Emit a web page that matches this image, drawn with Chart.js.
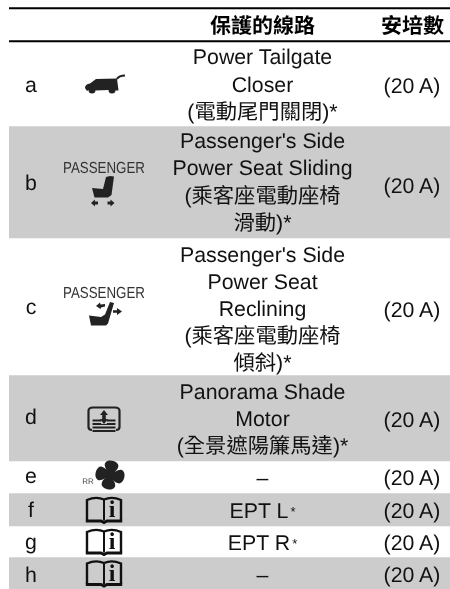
<!DOCTYPE html>
<html><head><meta charset="utf-8">
<style>html,body{margin:0;padding:0;background:#fff}canvas{display:block}</style>
<script src="https://cdn.jsdelivr.net/npm/chart.js@4"></script>
</head><body>
<canvas id="c" width="450" height="589"></canvas>
<script>
const headerLabels = ['保護的線路', '安培數'];
const rowLetters = ['a','b','c','d','e','f','g','h'];
const rowIcons = ['car','seatSlide','seatRecline','shade','fan','book','book','book'];
const rowCircuits = [
  ['Power Tailgate','Closer','(電動尾門關閉)*'],
  ["Passenger's Side",'Power Seat Sliding','(乘客座電動座椅','滑動)*'],
  ["Passenger's Side",'Power Seat','Reclining','(乘客座電動座椅','傾斜)*'],
  ['Panorama Shade','Motor','(全景遮陽簾馬達)*'],
  ['–'],
  ['EPT L|*'],
  ['EPT R|*'],
  ['–']
];
const rowAmps = ['(20 A)','(20 A)','(20 A)','(20 A)','(20 A)','(20 A)','(20 A)','(20 A)'];
const rowHeights = [84,112,137,86,32,33,31,32];
const headSpans = [7,2,31,2];

const LAT='"Liberation Sans","Noto Sans CJK TC",sans-serif';
const BODY='21.3px '+LAT;
const GRAY='#cccccc', INK='#111111';
const allSpans = headSpans.concat(rowHeights);
const colors = ['#ffffff','#000000','#ffffff','#000000'].concat(rowHeights.map((_,i)=>i%2?GRAY:'#ffffff'));

function poly(ctx,pts){ctx.beginPath();pts.forEach((p,i)=>i?ctx.lineTo(p[0],p[1]):ctx.moveTo(p[0],p[1]));ctx.closePath();ctx.fill();}
const icons = {
  car(ctx,cx,cy){
    ctx.save();ctx.translate(cx,cy);ctx.fillStyle='#222';ctx.strokeStyle='#222';
    ctx.beginPath();ctx.moveTo(-19,3);ctx.quadraticCurveTo(-19,-1,-14,-1.5);ctx.lineTo(-8,-6);ctx.lineTo(13,-6.5);ctx.lineTo(14.5,5.5);
    ctx.lineTo(11.5,5.5);ctx.arc(8,5,3.5,0,Math.PI,false);ctx.lineTo(-9,5.5);ctx.arc(-12,5,3.5,0,Math.PI,false);ctx.lineTo(-17,6);ctx.closePath();ctx.fill();
    ctx.lineWidth=2;ctx.beginPath();ctx.moveTo(13,-6);ctx.quadraticCurveTo(15,-9.5,21,-9.5);ctx.stroke();
    ctx.restore();
  },
  passenger(ctx,cx,y){
    ctx.fillStyle='#333';ctx.font='16px '+LAT;ctx.textAlign='center';ctx.textBaseline='alphabetic';
    ctx.fillText('PASSENGER',cx,y,82);
  },
  seatSlide(ctx,cx,cy){
    icons.passenger(ctx,cx,cy-9);
    ctx.save();ctx.translate(cx,cy);ctx.fillStyle='#222';
    poly(ctx,[[6,-6],[10,-5.5],[7.5,13],[4,15.5],[-9.5,15.5],[-12,6],[-1,7],[2,-5]]);
    [-1,1].forEach(s=>{
      const c=s<0?-8:5.5;
      poly(ctx,[[c+s*5,21],[c+s*1,17.5],[c+s*1,19.5],[c-s*2,19.5],[c-s*2,22.5],[c+s*1,22.5],[c+s*1,24.5]]);
    });
    ctx.restore();
  },
  seatRecline(ctx,cx,cy){
    icons.passenger(ctx,cx,cy-9.5);
    ctx.save();ctx.translate(cx,cy);ctx.fillStyle='#222';
    poly(ctx,[[-15,8],[-3,9.5],[1,7],[6,-5.5],[10,-4.5],[4,16],[2,18],[-13,18]]);
    poly(ctx,[[-8,-1.5],[-4,-5],[-3.5,-3],[1,-3.5],[1,-1],[-3,0],[-3.5,1.5]]);
    poly(ctx,[[18,4],[13,0.5],[13,2.8],[9,2.8],[9,5.2],[13,5.2],[13,7.5]]);
    ctx.restore();
  },
  shade(ctx,cx,cy){
    ctx.save();ctx.translate(cx,cy);ctx.strokeStyle='#222';ctx.fillStyle='#222';ctx.lineWidth=2.2;
    ctx.beginPath();ctx.moveTo(-12,11);ctx.quadraticCurveTo(-15.5,11,-15.5,8);ctx.lineTo(-15.5,-8);ctx.quadraticCurveTo(-15.5,-11.5,-11,-11.5);
    ctx.lineTo(11,-11.5);ctx.quadraticCurveTo(15.5,-11.5,15.5,-8);ctx.lineTo(15.5,8);ctx.quadraticCurveTo(15.5,11,12,11);ctx.stroke();
    ctx.lineWidth=2;
    [1.5,5,8.5,12].forEach(y=>{ctx.beginPath();ctx.moveTo(-11.5,y);ctx.lineTo(11.5,y);ctx.stroke();});
    ctx.strokeStyle=GRAY;ctx.lineWidth=5.5;ctx.beginPath();ctx.moveTo(0,-6);ctx.lineTo(0,5);ctx.stroke();
    poly(ctx,[[0,-9],[4,-4],[1.8,-4],[1.8,0],[4,0],[0,5],[-4,0],[-1.8,0],[-1.8,-4],[-4,-4]]);
    ctx.restore();
  },
  fan(ctx,cx,cy){
    ctx.save();
    ctx.fillStyle='#444';ctx.font='8px '+LAT;ctx.textAlign='center';ctx.textBaseline='alphabetic';
    ctx.fillText('RR',cx-16,cy+8);
    ctx.translate(cx+6,cy-1);ctx.rotate(0.25);ctx.fillStyle='#222';
    for(let i=0;i<4;i++){
      ctx.save();ctx.rotate(i*Math.PI/2);
      ctx.beginPath();ctx.moveTo(-1,0);ctx.bezierCurveTo(-4,-4,-10,-8,-7,-12);ctx.bezierCurveTo(-4,-16,6,-15,6,-10);ctx.bezierCurveTo(6,-6,3,-3,1,0);ctx.closePath();ctx.fill();
      ctx.restore();
    }
    ctx.beginPath();ctx.arc(0,0,3.5,0,7);ctx.fill();
    ctx.restore();
  },
  book(ctx,cx,cy){
    ctx.save();ctx.translate(cx,cy);ctx.strokeStyle='#111';ctx.fillStyle='#111';ctx.lineWidth=2.4;
    ctx.beginPath();ctx.moveTo(-17,11);ctx.lineTo(-17,-9.5);ctx.quadraticCurveTo(-8,-13.5,0,-10);ctx.quadraticCurveTo(8,-13.5,17,-9.5);ctx.lineTo(17,11);ctx.stroke();
    ctx.lineWidth=2;ctx.beginPath();ctx.moveTo(0,-10);ctx.lineTo(0,11);ctx.stroke();
    ctx.lineWidth=3;ctx.beginPath();ctx.moveTo(-18.2,11.5);ctx.lineTo(-3,11.5);ctx.lineTo(0,13);ctx.lineTo(3,11.5);ctx.lineTo(18.2,11.5);ctx.stroke();
    ctx.font='bold 24px "Liberation Serif",serif';ctx.textAlign='center';ctx.textBaseline='alphabetic';
    ctx.fillText('i',8,7.5);
    ctx.restore();
  }
};

const letterNudge=[0,0,-1,-2,-2,-1,-1,1];
const ampNudge=[1,3,2,1,0,.5,.5,1];
const textNudge=[-.5,-1,1.5,0,0,.5,.5,1];

const tablePlugin = {
  id:'tableText',
  afterDatasetsDraw(chart){
    const ctx=chart.ctx, ys=chart.scales.y;
    ctx.save();
    ctx.textRendering='geometricPrecision';ctx.fontKerning='normal';
    ctx.textBaseline='alphabetic';ctx.textAlign='center';ctx.fillStyle='#000';
    const head=headSpans.reduce((a,b)=>a+b,0);
    ctx.font='bold 21px "Noto Sans CJK TC",sans-serif';
    ctx.fillText(headerLabels[0],262.5,ys.getPixelForValue(33));
    ctx.fillText(headerLabels[1],412.5,ys.getPixelForValue(33));
    let top=head;
    rowHeights.forEach((h,i)=>{
      const mid=ys.getPixelForValue(top+h/2), base=mid+8;
      ctx.fillStyle=INK;ctx.font=BODY;ctx.textAlign='center';
      ctx.fillText(rowLetters[i],31,base+letterNudge[i]);
      ctx.fillText(rowAmps[i],412,base+ampNudge[i]);
      const lines=rowCircuits[i], lh=27.2;
      lines.forEach((t,k)=>{
        const y=base+textNudge[i]+(k-(lines.length-1)/2)*lh;
        ctx.fillStyle=INK;ctx.textAlign='center';
        const parts=t.split('|');
        if(parts.length>1){
          ctx.font=BODY;const w=ctx.measureText(parts[0]).width;
          ctx.textAlign='left';ctx.fillText(parts[0],260-w/2-1,y);
          ctx.font='13px '+LAT;ctx.fillText(parts[1],260+w/2+1,y-2);
        }else{
          ctx.font=BODY;ctx.fillText(t,262.5,y);
        }
      });
      const iy={car:mid+1,seatSlide:mid,seatRecline:mid+1,shade:mid+1,fan:mid-1,book:mid}[rowIcons[i]];
      icons[rowIcons[i]](ctx,104,iy);
      top+=h;
    });
    ctx.restore();
  }
};

new Chart(document.getElementById('c'),{
  type:'bar',
  data:{labels:['table'],datasets:allSpans.map((v,i)=>({data:[v],backgroundColor:colors[i],borderWidth:0,barPercentage:1,categoryPercentage:1,stack:'s'}))},
  options:{
    responsive:false,animation:false,devicePixelRatio:1,
    layout:{padding:{left:9,right:0,top:0,bottom:0}},
    plugins:{legend:{display:false},tooltip:{enabled:false},title:{display:false}},
    scales:{
      x:{display:false,stacked:true},
      y:{display:false,stacked:true,reverse:true,min:0,max:589}
    }
  },
  plugins:[tablePlugin]
});
</script>
</body></html>
